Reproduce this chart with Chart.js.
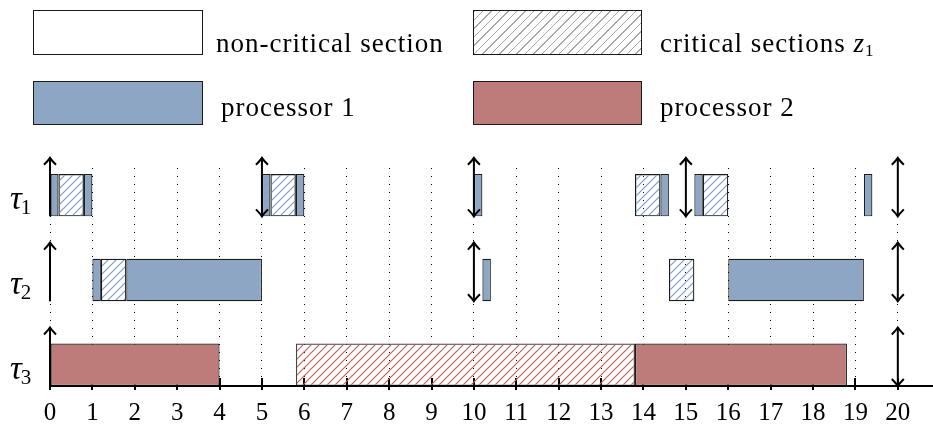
<!DOCTYPE html>
<html>
<head>
<meta charset="utf-8">
<script src="https://cdn.jsdelivr.net/npm/chart.js@4.4.0/dist/chart.umd.min.js"></script>
<style>
  html, body { margin: 0; padding: 0; background: #fff; }
  #wrap { position: relative; width: 933px; height: 430px; overflow: hidden; }
  #chart { position: absolute; left: 0; top: 0; }
  .lg-box { position: absolute; box-sizing: border-box; border: 1.3px solid #1a1a1a; }
  .lg-txt { position: absolute; font-family: "Liberation Serif", serif; font-size: 27px;
            line-height: 27px; color: #000; white-space: nowrap; letter-spacing: 1px; }
  .lg-txt sub { font-size: 17px; vertical-align: -4px; line-height: 0; }
</style>
</head>
<body>
<div id="wrap">
  <canvas id="chart" width="933" height="430"></canvas>

  <div class="lg-box" style="left:33px;top:10px;width:170px;height:45px;background:#fff"></div>
  <div class="lg-txt" style="left:216px;top:30px">non-critical section</div>
  <div class="lg-box" style="left:473px;top:10px;width:169px;height:45px;background:repeating-linear-gradient(135deg,#a8a8a8 0 1px,#fff 1px 6px)"></div>
  <div class="lg-txt" style="left:660px;top:30px">critical sections <i>z</i><sub>1</sub></div>

  <div class="lg-box" style="left:33px;top:81px;width:170px;height:44px;background:#8da6c4"></div>
  <div class="lg-txt" style="left:221px;top:94px">processor 1</div>
  <div class="lg-box" style="left:473px;top:81px;width:169px;height:44px;background:#bd7c79"></div>
  <div class="lg-txt" style="left:660px;top:94px">processor 2</div>
</div>

<script>
// rows of the schedule (τ1 on top)
const taskSubs = ["1", "2", "3"];
const taskRows = [3, 2, 1];

const xTicks = [0, 1, 2, 3, 4, 5, 6, 7, 8, 9, 10, 11, 12, 13, 14, 15, 16, 17, 18, 19, 20];

// [start, end] of each execution piece
const tau1Run  = [[0, 0.2], [0.8, 1], [5, 5.2], [5.8, 6], [10, 10.2], [14.4, 14.6], [15.2, 15.4], [19.2, 19.4]];
const tau1Crit = [[0.2, 0.8], [5.2, 5.8], [13.8, 14.4], [15.4, 16]];
const tau2Run  = [[1, 1.2], [1.8, 5], [10.2, 10.4], [16, 19.2]];
const tau2Crit = [[1.2, 1.8], [14.6, 15.2]];
const tau3Run  = [[0, 4], [13.8, 18.8]];
const tau3Crit = [[5.8, 13.8]];

// job releases (up arrows) and deadlines (down arrows)
const releases  = [[0, 5, 10, 15, 20], [0, 10, 20], [0, 20]];
const deadlines = [[5, 10, 15, 20], [10, 20], [20]];

const BLUE = "#8da6c4";
const RED = "#bd7c79";
const EDGE = "#1a1a1a";

function hatch(color) {
  const c = document.createElement("canvas");
  c.width = c.height = 8;
  const g = c.getContext("2d");
  g.strokeStyle = color;
  g.lineWidth = 1.2;
  g.beginPath();
  g.moveTo(0, 8); g.lineTo(8, 0);
  g.moveTo(-1, 1); g.lineTo(1, -1);
  g.moveTo(7, 9); g.lineTo(9, 7);
  g.stroke();
  return g.createPattern(c, "repeat");
}

const pts = (segs, row) => segs.map((s) => ({ x: s, y: row }));

const barBase = {
  borderColor: EDGE,
  borderWidth: 1.2,
  borderSkipped: false,
  grouped: false,
  barPercentage: 1,
  categoryPercentage: 0.5,
};

const data = {
  datasets: [
    { ...barBase, label: "p1", backgroundColor: BLUE,
      data: [...pts(tau1Run, taskRows[0]), ...pts(tau2Run, taskRows[1])] },
    { ...barBase, label: "p1 crit", backgroundColor: hatch("#7f9cc6"),
      data: [...pts(tau1Crit, taskRows[0]), ...pts(tau2Crit, taskRows[1])] },
    { ...barBase, label: "p2", backgroundColor: RED, data: pts(tau3Run, taskRows[2]) },
    { ...barBase, label: "p2 crit", backgroundColor: hatch("#c9605b"), borderColor: "#444",
      data: pts(tau3Crit, taskRows[2]) },
  ],
};

const ARROW_LO = -0.25, ARROW_HI = 0.44;

const marks = {
  id: "marks",
  beforeDatasetsDraw(chart) {
    const { ctx, scales: { x }, chartArea } = chart;
    ctx.save();
    ctx.strokeStyle = "#000";
    ctx.lineWidth = 2;
    xTicks.forEach((v) => {
      const px = Math.round(x.getPixelForValue(v));
      ctx.beginPath();
      ctx.moveTo(px, chartArea.bottom - 8);
      ctx.lineTo(px, chartArea.bottom + 4);
      ctx.stroke();
    });
    ctx.restore();
  },
  afterDatasetsDraw(chart) {
    const { ctx, scales: { x, y }, chartArea } = chart;
    ctx.save();
    ctx.strokeStyle = "#000";
    ctx.lineWidth = 2;
    ctx.beginPath();
    ctx.moveTo(chartArea.left, chartArea.bottom);
    ctx.lineTo(chart.width, chartArea.bottom);
    ctx.stroke();

    const head = (px, py, dir) => {
      ctx.beginPath();
      ctx.moveTo(px - 6, py - dir * 7);
      ctx.quadraticCurveTo(px - 2, py - dir * 3, px, py);
      ctx.quadraticCurveTo(px + 2, py - dir * 3, px + 6, py - dir * 7);
      ctx.stroke();
    };

    taskRows.forEach((row, i) => {
      const lo = y.getPixelForValue(row + ARROW_LO);
      const hi = y.getPixelForValue(row + ARROW_HI);
      const times = [...new Set([...releases[i], ...deadlines[i]])];
      times.forEach((t) => {
        const px = x.getPixelForValue(t);
        ctx.beginPath();
        ctx.moveTo(px, lo);
        ctx.lineTo(px, hi);
        ctx.stroke();
        if (releases[i].includes(t)) head(px, hi, -1);
        if (deadlines[i].includes(t)) head(px, lo, 1);
      });

      const cy = y.getPixelForValue(row);
      ctx.fillStyle = "#000";
      ctx.textBaseline = "alphabetic";
      ctx.font = 'italic 33px "Liberation Serif"';
      ctx.fillText("τ", 10, cy + 14);
      const w = ctx.measureText("τ").width;
      ctx.font = '21px "Liberation Serif"';
      ctx.fillText(taskSubs[i], 10 + w - 1, cy + 19);
    });
    ctx.restore();
  },
};

new Chart(document.getElementById("chart"), {
  type: "bar",
  data,
  options: {
    indexAxis: "y",
    responsive: false,
    animation: false,
    layout: { padding: { top: 168, left: 50, right: 0, bottom: 0 } },
    plugins: { legend: { display: false }, tooltip: { enabled: false } },
    scales: {
      x: {
        type: "linear",
        min: 0,
        max: 20.83,
        afterBuildTicks: (s) => { s.ticks = xTicks.map((v) => ({ value: v })); },
        afterFit: (s) => { s.height = 44; },
        ticks: {
          color: "#000",
          padding: 12,
          autoSkip: false,
          maxRotation: 0,
          font: { family: "Liberation Serif", size: 25 },
        },
        grid: { color: "#000", lineWidth: 1, drawTicks: false },
        border: { display: false, dash: [1, 7] },
      },
      y: {
        type: "linear",
        min: 0.75,
        max: 3.32,
        offset: false,
        display: false,
        afterBuildTicks: (s) => { s.ticks = [...taskRows].sort().map((v) => ({ value: v })); },
      },
    },
  },
  plugins: [marks],
});
</script>
</body>
</html>
